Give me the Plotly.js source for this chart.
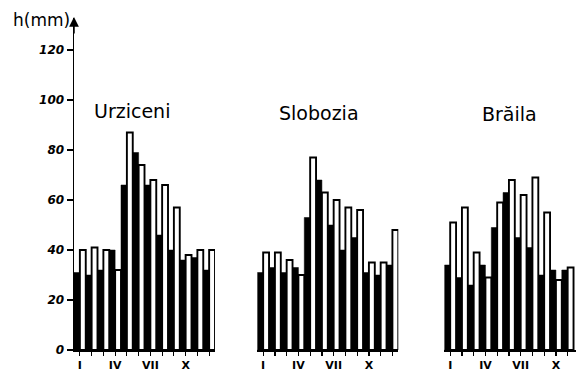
<!DOCTYPE html>
<html>
<head>
<meta charset="utf-8">
<script src="https://cdn.plot.ly/plotly-3.0.1.min.js"></script>
<style>
  html, body { margin: 0; padding: 0; background: #fff; overflow: hidden; }
  #chart { width: 576px; height: 371px; }
</style>
</head>
<body>
<div id="chart"></div>
<script>
// ---- data ----
var months = ["I","II","III","IV","V","VI","VII","VIII","IX","X","XI","XII"];
var monthTickText = ["I","","","IV","","","VII","","","X","",""];
var stationNames = ["Urziceni","Slobozia","Brăila"];

var urziceniBlack = [31, 30, 32, 40, 66, 79, 66, 46, 40, 36, 37, 32];
var urziceniWhite = [40, 41, 40, 32, 87, 74, 68, 66, 57, 38, 40, 40];

var sloboziaBlack = [31, 33, 31, 33, 53, 68, 50, 40, 45, 31, 30, 34];
var sloboziaWhite = [39, 39, 36, 30, 77, 63, 60, 57, 56, 35, 35, 48];

// last month of Brăila is cut off at the picture's right edge
var brailaBlack = [34, 29, 26, 34, 49, 63, 45, 41, 30, 32, 32];
var brailaWhite = [51, 57, 39, 29, 59, 68, 62, 69, 55, 28, 33];

var yTicks = [0, 20, 40, 60, 80, 100, 120];

// ---- traces ----
function pair(blackVals, whiteVals, xa) {
  return [
    { type: "bar", x: months.slice(0, blackVals.length), y: blackVals, xaxis: xa, yaxis: "y",
      marker: { color: "#000", line: { color: "#000", width: 0.5 } }, hoverinfo: "skip" },
    { type: "bar", x: months.slice(0, whiteVals.length), y: whiteVals, xaxis: xa, yaxis: "y",
      marker: { color: "#fff", line: { color: "#000", width: 1.9 } }, hoverinfo: "skip" }
  ];
}
var data = [].concat(
  pair(urziceniBlack, urziceniWhite, "x"),
  pair(sloboziaBlack, sloboziaWhite, "x2"),
  pair(brailaBlack, brailaWhite, "x3")
);

var xBase = {
  type: "category", showgrid: false, zeroline: false,
  showline: true, linecolor: "#000", linewidth: 1.5,
  ticks: "outside", ticklen: 4, tickwidth: 1.2, tickcolor: "#000",
  tickvals: months, ticktext: monthTickText,
  tickfont: { family: "DejaVu Sans", size: 11, color: "#000", weight: "bold" },
  anchor: "y", fixedrange: true
};
function xa(domain, range) {
  var o = JSON.parse(JSON.stringify(xBase));
  o.domain = domain; o.range = range;
  return o;
}

var layout = {
  width: 576, height: 371,
  margin: { l: 74, r: 0, t: 18, b: 21 },
  paper_bgcolor: "#fff", plot_bgcolor: "#fff",
  showlegend: false,
  barmode: "group", bargap: 0, bargroupgap: 0,
  font: { family: "DejaVu Sans", color: "#000" },
  xaxis: xa([0, 0.2809], [-0.5, 11.5]),
  xaxis2: xa([0.3651, 0.646], [-0.5, 11.5]),
  xaxis3: xa([0.7377, 1], [-0.5, 10.71]),
  yaxis: {
    range: [0, 132.8], showgrid: false, zeroline: false,
    showline: true, linecolor: "#000", linewidth: 1.5,
    ticks: "outside", ticklen: 6, tickwidth: 1.2, tickcolor: "#000",
    tickvals: yTicks, ticktext: yTicks.map(String),
    tickfont: { family: "DejaVu Sans", size: 12, color: "#000", style: "italic", weight: "bold" },
    anchor: "x", fixedrange: true
  },
  annotations: [
    { xref: "paper", yref: "paper", x: -0.125, y: 0.994, xanchor: "left", yanchor: "middle",
      text: "h(mm)", showarrow: false, font: { family: "DejaVu Sans", size: 17, color: "#000" } },
    { xref: "paper", yref: "paper", x: 0, y: 1.003, ax: 0, ay: 18, text: "",
      showarrow: true, arrowhead: 2, arrowsize: 1.3, arrowwidth: 1.5, arrowcolor: "#000" },
    { xref: "paper", yref: "y", x: 0.1155, y: 95.6, xanchor: "center", yanchor: "middle",
      text: stationNames[0], showarrow: false, font: { family: "DejaVu Sans", size: 19, color: "#000" } },
    { xref: "paper", yref: "y", x: 0.488, y: 95.0, xanchor: "center", yanchor: "middle",
      text: stationNames[1], showarrow: false, font: { family: "DejaVu Sans", size: 19, color: "#000" } },
    { xref: "paper", yref: "y", x: 0.8685, y: 94.6, xanchor: "center", yanchor: "middle",
      text: stationNames[2], showarrow: false, font: { family: "DejaVu Sans", size: 19, color: "#000" } }
  ]
};

Plotly.newPlot("chart", data, layout, { staticPlot: true, displayModeBar: false });
</script>
</body>
</html>
